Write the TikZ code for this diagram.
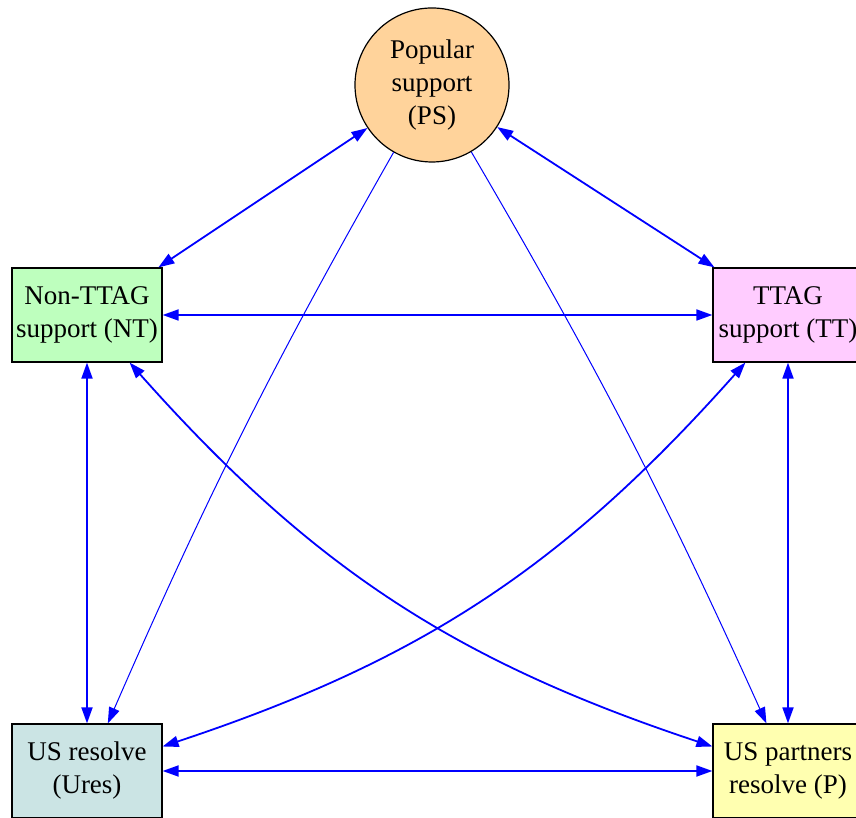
\documentclass[tikz,border=0pt]{standalone}
\usepackage{fontspec}
\setmainfont{Liberation Serif}
\usetikzlibrary{arrows.meta}
\definecolor{psfill}{RGB}{255,211,155}
\definecolor{ntfill}{RGB}{190,255,190}
\definecolor{ttfill}{RGB}{255,204,255}
\definecolor{uresfill}{RGB}{203,228,228}
\definecolor{pfill}{RGB}{255,255,176}

\begin{document}
\begin{tikzpicture}
  [
    x=0.5pt, y=0.5pt,
    factor/.style={draw=black, line width=0.6pt, align=center, inner sep=0pt,
      font=\fontsize{13.5}{16.5}\selectfont},
    box/.style={factor, rectangle, minimum width=75pt, minimum height=47pt},
    link/.style={draw=blue, line width=0.9pt, >={Triangle[length=8pt,width=5.5pt]}},
    onelink/.style={link, line width=0.5pt}
  ]
  \useasboundingbox (0,0) rectangle (856,818);
  % factors
  \node [factor, circle, minimum size=77pt, fill=psfill] (ps) at (432,733) {Popular\\support\\(PS)};
  \node [box, fill=ntfill] (nt) at (87,503) {Non-TTAG\\support (NT)};
  \node [box, fill=ttfill] (tt) at (788,503) {TTAG\\support (TT)};
  \node [box, fill=uresfill] (ures) at (87,47) {US resolve\\(Ures)};
  \node [box, fill=pfill] (p) at (788,47) {US partners\\resolve (P)};
  % two-way links
  \foreach \a/\b in {nt/ps, ps/tt, nt/tt, nt/ures, tt/p, ures/p} {
    \draw [link, <->] (\a) -- (\b);
  }
  % crossing links
  \draw [link, <->] (nt) to[bend right=15] (p);
  \draw [link, <->] (tt) to[bend left=15] (ures);
  % one-way links
  \draw [onelink, ->] (ps) to[bend right=3] (ures);
  \draw [onelink, ->] (ps) to[bend left=3] (p);
\end{tikzpicture}
\end{document}
